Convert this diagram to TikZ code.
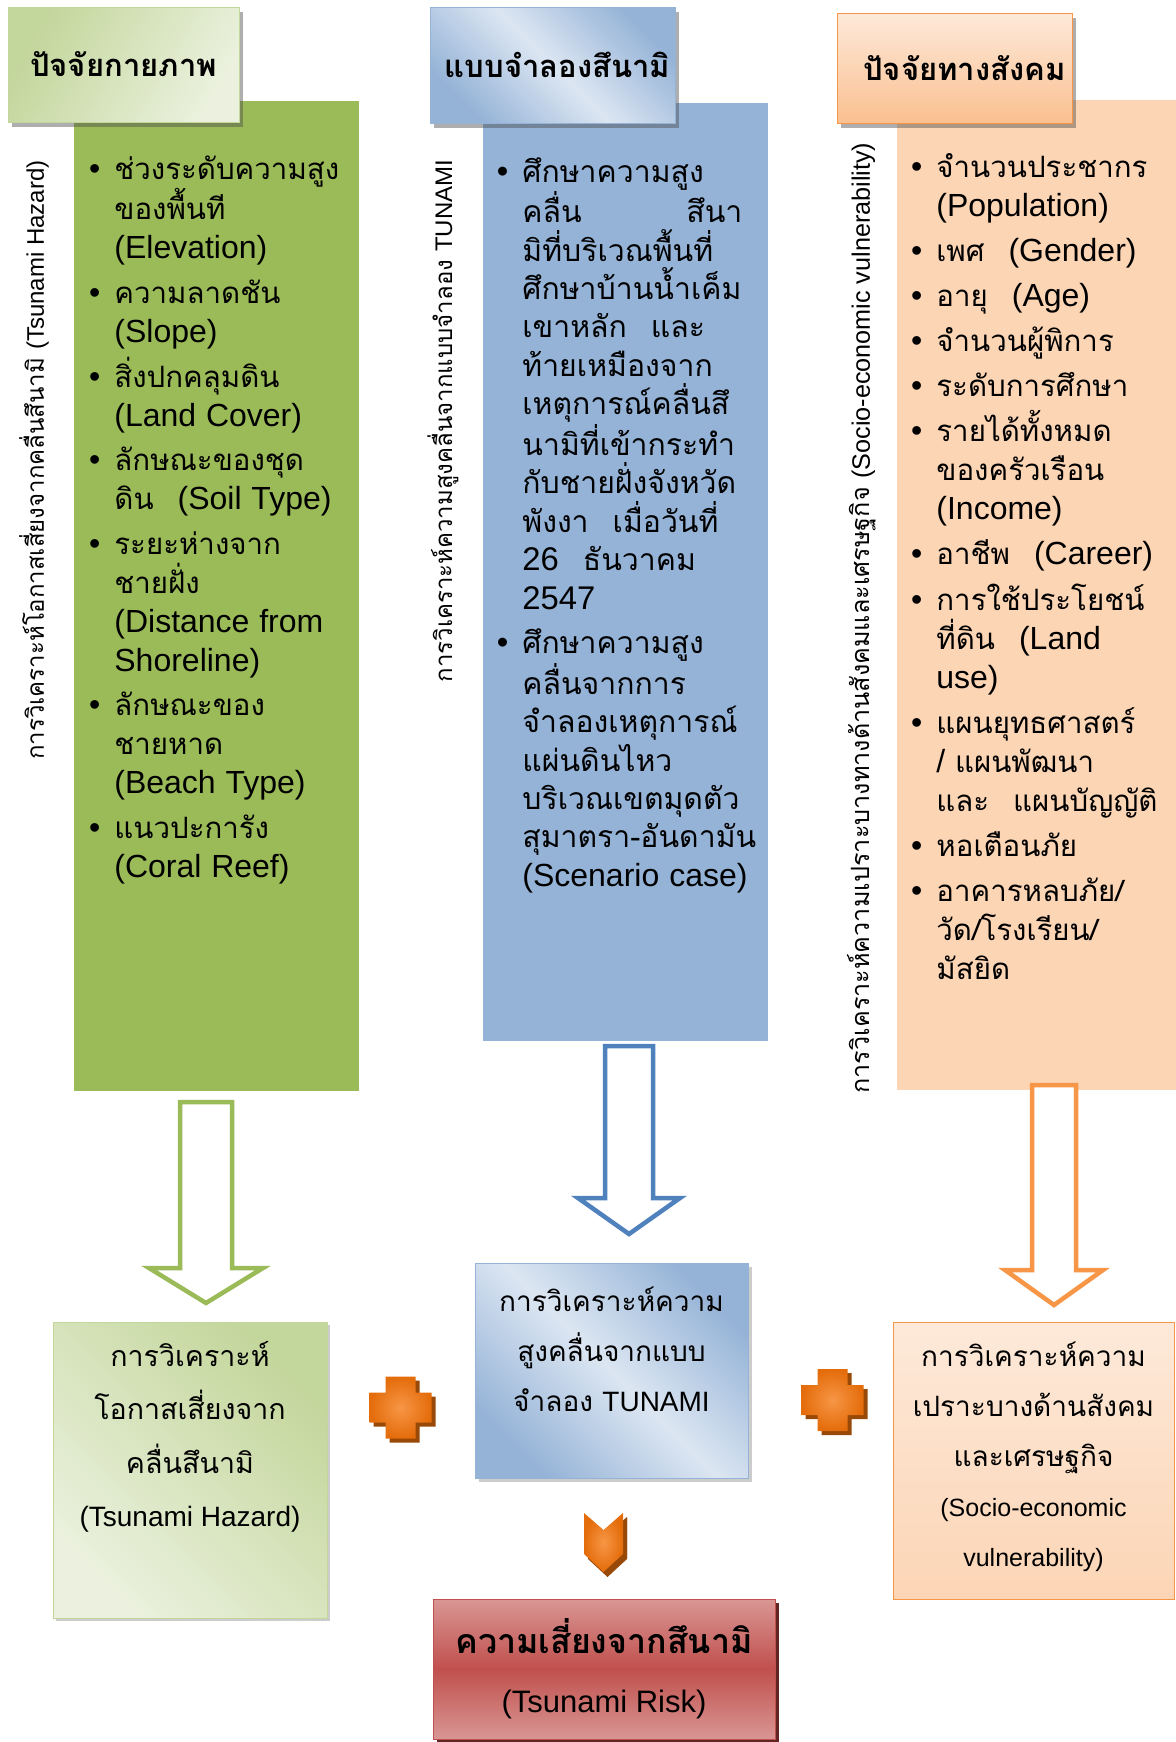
\documentclass[tikz,border=0pt]{standalone}
\usepackage{fontspec}
\setmainfont{Loma}[Script=Thai]
\newfontfamily\thb{Loma}[Script=Thai,Scale=0.92]
\newfontfamily\en{Liberation Sans}
\usetikzlibrary{shadows,calc}

\definecolor{grnbody}{HTML}{9BBB59}
\definecolor{grnlite}{HTML}{EBF1DE}
\definecolor{grnmid}{HTML}{C3D69B}
\definecolor{blubody}{HTML}{95B3D7}
\definecolor{blulite}{HTML}{DCE6F2}
\definecolor{bluline}{HTML}{4F81BD}
\definecolor{orgbody}{HTML}{FCD5B5}
\definecolor{orglite}{HTML}{FDE9D9}
\definecolor{orgmid}{HTML}{FAC090}
\definecolor{orgline}{HTML}{F79646}
\definecolor{plusorg}{HTML}{E46C0A}
\definecolor{plusdark}{HTML}{984807}
\definecolor{redmid}{HTML}{C0504D}
\definecolor{redlite}{HTML}{D99694}
\definecolor{reddark}{HTML}{632523}

\newcommand{\bul}{\leavevmode\llap{{\en\textbullet}\hspace{7pt}}}
\newcommand{\gap}{\hspace{12pt}}

\begin{document}
\begin{tikzpicture}[x=0.5pt,y=-0.5pt,
  box/.style={inner sep=0pt,outer sep=0pt},
  headbox/.style={box,font=\fontsize{15.5}{19}\selectfont\bfseries,
    drop shadow={shadow xshift=2pt,shadow yshift=-2.5pt,opacity=0.45,fill=black!70}},
  bodytext/.style={inner sep=0pt,anchor=base west,text width=#1,align=left,
    font=\thb\fontsize{16}{19.55}\selectfont},
  vlabel/.style={inner sep=0pt,rotate=90,font=\fontsize{12}{14}\selectfont},
  restext/.style={inner sep=0pt,align=center},
  hollow/.style={line width=2.25pt,fill=white},
  cross/.style={shading=radial,inner color=orgline,outer color=plusorg,
    drop shadow={shadow xshift=2pt,shadow yshift=-2pt,opacity=1,fill=plusdark}}
]
\useasboundingbox (0,0) rectangle (1176,1742);

% column bodies
\node[box,fill=grnbody,minimum width=142.5pt,minimum height=495pt] (gbody) at (216.5,596) {};
\node[box,fill=blubody,minimum width=142.5pt,minimum height=469pt] (bbody) at (625.5,572) {};
\node[box,fill=orgbody,minimum width=139.5pt,minimum height=495pt] (obody) at (1036.5,595) {};

% headers
\node[headbox,minimum width=115.5pt,minimum height=57.5pt,draw=grnmid,
  left color=grnmid,right color=grnlite,shading angle=60] (ghead) at (123.5,64.5) {ปัจจัยกายภาพ};
\node[headbox,minimum width=122.5pt,minimum height=58pt,draw=blubody,
  left color=blubody,right color=blubody,middle color=blulite,shading angle=135] (bhead) at (552.5,65) {\hspace*{5pt}แบบจำลองสึนามิ};
\node[headbox,minimum width=117.5pt,minimum height=55pt,draw=orgline,
  top color=orglite,bottom color=orgmid] (ohead) at (954.5,68) {\hspace*{10pt}ปัจจัยทางสังคม};

% side labels
\node[vlabel] (glab) at (34,460) {การวิเคราะห์โอกาสเสี่ยงจากคลื่นสึนามิ {\en(Tsunami Hazard)}};
\node[vlabel] (blab) at (443,421) {การวิเคราะห์ความสูงคลื่นจากแบบจำลอง {\en TUNAMI}};
\node[vlabel,font=\fontsize{12.6}{14}\selectfont] (olab) at (862,618) {การวิเคราะห์ความเปราะบางทางด้านสังคมและเศรษฐกิจ {\en(Socio-economic vulnerability)}};

% lists
\node[bodytext=125pt,font=\thb\fontsize{16}{19.42}\selectfont] (gtext) at (114,179) {\bul ช่วงระดับความสูง\\ของพื้นที\\{\en(Elevation)}\\[3pt]
\bul ความลาดชัน\\{\en(Slope)}\\[3pt]
\bul สิ่งปกคลุมดิน\\{\en(Land Cover)}\\[3pt]
\bul ลักษณะของชุด\\ดิน\gap{\en(Soil Type)}\\[3pt]
\bul ระยะห่างจาก\\ชายฝั่ง\\{\en(Distance from}\\{\en Shoreline)}\\[3pt]
\bul ลักษณะของ\\ชายหาด\\{\en(Beach Type)}\\[3pt]
\bul แนวปะการัง\\{\en(Coral Reef)}};

\node[bodytext=135pt,font=\thb\fontsize{16.4}{19.18}\selectfont] (btext) at (522,182) {\bul ศึกษาความสูง\\
\makebox[110pt][l]{คลื่น\hfill สึนา}\\
มิที่บริเวณพื้นที่\\
ศึกษาบ้านน้ำเค็ม\\
เขาหลัก\gap และ\\
ท้ายเหมืองจาก\\
เหตุการณ์คลื่นสึ\\
นามิที่เข้ากระทำ\\
กับชายฝั่งจังหวัด\\
พังงา\gap เมื่อวันที่\\
{\en 26}\gap ธันวาคม\\
{\en 2547}\\[3pt]
\bul ศึกษาความสูง\\
คลื่นจากการ\\
จำลองเหตุการณ์\\
แผ่นดินไหว\\
บริเวณเขตมุดตัว\\
สุมาตรา-อันดามัน\\
{\en\fontsize{16}{19.18}\selectfont(Scenario case)}};

\node[bodytext=125pt] (otext) at (936,177) {\bul จำนวนประชากร\\{\en(Population)}\\[3pt]
\bul เพศ\gap{\en(Gender)}\\[3pt]
\bul อายุ\gap{\en(Age)}\\[3pt]
\bul จำนวนผู้พิการ\\[3pt]
\bul ระดับการศึกษา\\[3pt]
\bul รายได้ทั้งหมด\\ของครัวเรือน\\{\en(Income)}\\[3pt]
\bul อาชีพ\gap{\en(Career)}\\[3pt]
\bul การใช้ประโยชน์\\ที่ดิน\gap{\en(Land}\\{\en use)}\\[3pt]
\bul แผนยุทธศาสตร์\\{\en /} แผนพัฒนา\\และ\gap แผนบัญญัติ\\[3pt]
\bul หอเตือนภัย\\[3pt]
\bul อาคารหลบภัย/\\วัด/โรงเรียน/\\มัสยิด};

% result boxes
\node[box,minimum width=137pt,minimum height=148pt,draw=grnmid,left color=grnlite,right color=grnmid,shading angle=135,
  drop shadow={shadow xshift=1.5pt,shadow yshift=-1.5pt,opacity=0.4}] (gres) at (190,1470) {};
\node[restext,font=\fontsize{14.3}{26.7}\selectfont] (gres-txt) at ([yshift=16.5pt]gres.center) {การวิเคราะห์\\โอกาสเสี่ยงจาก\\คลื่นสึนามิ\\{\en\fontsize{14}{26.7}\selectfont(Tsunami Hazard)}};

\node[box,minimum width=136.5pt,minimum height=107.5pt,draw=blubody,left color=blubody,right color=blubody,middle color=blulite,shading angle=135,
  drop shadow={shadow xshift=2pt,shadow yshift=-2pt,opacity=0.4}] (bres) at (611.5,1370.5) {};
\node[restext,font=\fontsize{14}{25}\selectfont] (bres-txt) at ([yshift=10.75pt]bres.center) {การวิเคราะห์ความ\\สูงคลื่นจากแบบ\\จำลอง {\en TUNAMI}};

\node[box,minimum width=140.5pt,minimum height=138.5pt,draw=orgline,top color=orglite,bottom color=orgbody] (ores) at (1033.5,1460.5) {};
\node[restext,font=\fontsize{14}{25}\selectfont] (ores-txt) at ([yshift=1.75pt]ores.center) {การวิเคราะห์ความ\\เปราะบางด้านสังคม\\และเศรษฐกิจ\\{\en\fontsize{12.5}{25}\selectfont(Socio-economic}\\{\en\fontsize{12.5}{25}\selectfont vulnerability)}};

\node[box,minimum width=171pt,minimum height=70pt,draw=redmid,top color=redlite,bottom color=redlite,middle color=redmid,
  drop shadow={shadow xshift=2pt,shadow yshift=-2pt,opacity=1,fill=reddark}] (risk) at (604,1669) {};
\node[restext,font=\fontsize{17}{29.5}\selectfont] (risk-txt) at (risk.center) {{\bfseries ความเสี่ยงจากสึนามิ}\\{\en\fontsize{15.5}{29.5}\selectfont(Tsunami Risk)}};

% hollow arrows
\coordinate (g-top) at ([xshift=-5.25pt,yshift=-5.5pt]gbody.south);
\coordinate (g-tip) at ([xshift=8pt,yshift=9.5pt]gres.north);
\coordinate (b-top) at ([xshift=1.75pt,yshift=-2.5pt]bbody.south);
\coordinate (b-tip) at ([xshift=8.75pt,yshift=14.5pt]bres.north);
\coordinate (o-top) at ([xshift=8.75pt,yshift=2.5pt]obody.south);
\coordinate (o-tip) at ([xshift=10.25pt,yshift=8.5pt]ores.north);

\foreach \nm/\sw/\hw/\hl/\col in {g/26/57/35/grnbody, b/24/51/36/bluline, o/22/49/35/orgline}
{
\draw[hollow,draw=\col] ($(\nm-top)+(-\sw,0)$) -- ($(\nm-top)+(\sw,0)$) -- ($(\nm-tip)+(\sw,-\hl)$)
  -- ($(\nm-tip)+(\hw,-\hl)$) -- (\nm-tip) -- ($(\nm-tip)+(-\hw,-\hl)$) -- ($(\nm-tip)+(-\sw,-\hl)$) -- cycle;
}

% plus signs
\foreach \nm/\xx/\yy in {plusa/400.5/1407.5, plusb/832.5/1400}
{
\coordinate (\nm) at (\xx,\yy);
\path[cross] (\nm) ++(-15,-31) -- ++(30,0) -- ++(0,16) -- ++(16,0) -- ++(0,30) -- ++(-16,0)
  -- ++(0,16) -- ++(-30,0) -- ++(0,-16) -- ++(-16,0) -- ++(0,-30) -- ++(16,0) -- cycle;
}

% chevron to risk
\coordinate (chev) at (603.5,1530);
\path[cross,drop shadow={shadow xshift=2pt,shadow yshift=-2.5pt,opacity=1,fill=plusdark}]
  (chev) ++(-19.5,-17) -- ++(19.5,17) -- ++(19.5,-17) -- ++(0,41) -- ++(-19.5,18) -- ++(-19.5,-18) -- cycle;

\end{tikzpicture}
\end{document}
